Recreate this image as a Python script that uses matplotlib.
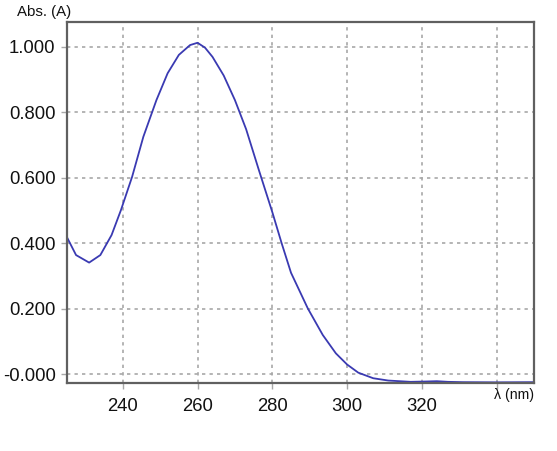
import matplotlib
matplotlib.use("Agg")
import matplotlib.pyplot as plt

wavelength = [225, 227.5, 231, 234, 237, 239.5, 242.5, 245.5, 249, 252, 255, 258, 260, 262,
              264, 267, 270, 273, 276.5, 280, 282.5, 285, 289.5, 293.5, 297, 300, 303, 307,
              311, 317, 321, 324, 327, 331, 340, 350]
absorbance = [0.420, 0.364, 0.341, 0.364, 0.425, 0.501, 0.603, 0.725, 0.837, 0.919, 0.975, 1.005,
              1.012, 0.997, 0.969, 0.912, 0.837, 0.748, 0.620, 0.495, 0.400, 0.310, 0.201, 0.120,
              0.064, 0.030, 0.005, -0.012, -0.019, -0.023, -0.022, -0.021, -0.023, -0.024,
              -0.0245, -0.024]

xticks = [240, 260, 280, 300, 320, 340]
xtick_labels = ["240", "260", "280", "300", "320", ""]
yticks = [0.0, 0.2, 0.4, 0.6, 0.8, 1.0]
ytick_labels = ["-0.000", "0.200", "0.400", "0.600", "0.800", "1.000"]

plt.rcParams['font.family'] = ['Liberation Sans', 'DejaVu Sans']

fig = plt.figure(figsize=(5.57, 4.51), dpi=100)
ax = fig.add_axes([66.7/557, 1 - 382.7/451, (534 - 66.7)/557, (382.7 - 22.3)/451])

ax.plot(wavelength, absorbance, color='#3a3ab2', lw=1.3)

ax.set_xlim(225, 350)
ax.set_ylim(-0.0256, 1.0745)
ax.set_xticks(xticks)
ax.set_xticklabels(xtick_labels)
ax.set_yticks(yticks)
ax.set_yticklabels(ytick_labels)

ax.grid(True, color='#a8a8a8', linestyle=(0, (2, 2.5)), lw=1.2)
ax.tick_params(axis='both', direction='out', length=4, width=1, color='#a8a8a8',
               labelsize=13.3, labelcolor='#111111')
ax.tick_params(axis='x', pad=7)
ax.tick_params(axis='y', pad=4)
for s in ax.spines.values():
    s.set_color('#606060')
    s.set_linewidth(1.6)

fig.text(17/557, 1 - 5/451, "Abs. (A)", fontsize=10.8, ha='left', va='top', color='#111111')
fig.text(534/557, 1 - 388/451, "λ (nm)", fontsize=10.2, ha='right', va='top', color='#111111')

fig.savefig("out.png", dpi=100)
